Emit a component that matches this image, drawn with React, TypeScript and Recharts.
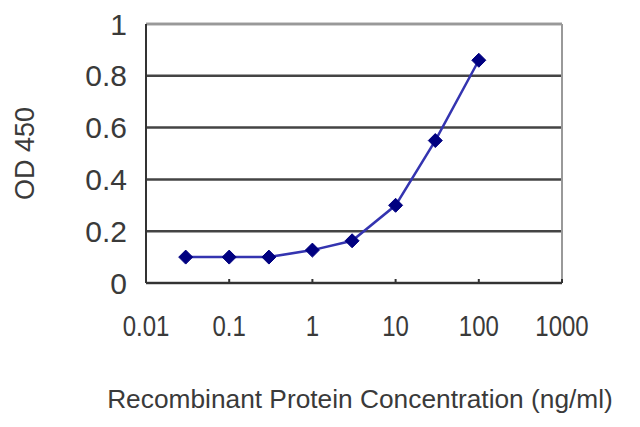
import React from 'react';
import { LineChart, Line, XAxis, YAxis, CartesianGrid, ReferenceLine } from 'recharts';

const concentrations = [0.03, 0.1, 0.3, 1, 3, 10, 30, 100];
const od450 = [0.1, 0.1, 0.1, 0.127, 0.163, 0.3, 0.55, 0.86];
const xTicks = [0.01, 0.1, 1, 10, 100, 1000];
const yTicks = [0, 0.2, 0.4, 0.6, 0.8, 1];
const xTickLabels = ['0.01', '0.1', '1', '10', '100', '1000'];
const yTickLabels = ['0', '0.2', '0.4', '0.6', '0.8', '1'];

const data = concentrations.map((c, i) => ({ x: c, y: od450[i] }));

const FONT = '"Liberation Sans", Arial, sans-serif';

const Diamond = (props: any) => {
  const { cx, cy } = props;
  if (cx == null || cy == null) return null;
  const r = 7;
  return (
    <polygon
      points={`${cx},${cy - r} ${cx + r},${cy} ${cx},${cy + r} ${cx - r},${cy}`}
      fill="#000080"
      stroke="#000080"
      strokeWidth={1}
    />
  );
};

const XTick = (props: any) => {
  const { x, y, payload } = props;
  const label = xTickLabels[xTicks.indexOf(payload.value)] ?? String(payload.value);
  return (
    <g transform={`translate(${x},${y})`}>
      <text
        x={0}
        y={0}
        dy="0.71em"
        textAnchor="middle"
        fontSize={30}
        fontFamily={FONT}
        fill="#3a3a3a"
        transform="scale(0.8,1)"
      >
        {label}
      </text>
    </g>
  );
};

export default function App() {
  return (
    <div style={{ position: 'absolute', left: 0, top: 0, width: 640, height: 427, background: '#fff' }}>
      <LineChart
        width={640}
        height={427}
        data={data}
        margin={{ top: 24, right: 78, bottom: 0, left: 0 }}
      >
        <CartesianGrid horizontal vertical={false} stroke="#444" strokeWidth={2.5} />
        <ReferenceLine y={1} stroke="#999" strokeWidth={2} />
        <ReferenceLine x={1000} stroke="#999" strokeWidth={2} />
        <XAxis
          dataKey="x"
          type="number"
          scale="log"
          domain={[0.01, 1000]}
          ticks={xTicks}
          allowDataOverflow
          height={144}
          stroke="#333"
          strokeWidth={2}
          tickSize={-4}
          tickMargin={36}
          tick={<XTick />}
          label={{
            content: (p: any) => {
              const vb = p.viewBox;
              return (
                <text
                  x={vb.x + vb.width / 2 + 6}
                  y={408}
                  textAnchor="middle"
                  fontSize={26.3}
                  fontFamily={FONT}
                  fill="#3a3a3a"
                >
                  Recombinant Protein Concentration (ng/ml)
                </text>
              );
            },
          }}
        />
        <YAxis
          type="number"
          domain={[0, 1]}
          ticks={yTicks}
          width={146}
          stroke="#333"
          strokeWidth={2}
          tickLine={false}
          tickSize={0}
          tickMargin={19}
          tickFormatter={(v: number) => yTickLabels[yTicks.indexOf(v)] ?? String(v)}
          tick={{ fontSize: 30, fontFamily: FONT, fill: '#3a3a3a' }}
          label={{
            content: (p: any) => {
              const vb = p.viewBox;
              const cx = vb.x + 25;
              const cy = vb.y + vb.height / 2;
              return (
                <text
                  x={cx}
                  y={cy}
                  dy="0.35em"
                  textAnchor="middle"
                  fontSize={27}
                  fontFamily={FONT}
                  fill="#3a3a3a"
                  transform={`rotate(-90,${cx},${cy})`}
                >
                  OD 450
                </text>
              );
            },
          }}
        />
        <Line
          type="linear"
          dataKey="y"
          stroke="#3434b0"
          strokeWidth={2.5}
          dot={<Diamond />}
          activeDot={false}
          isAnimationActive={false}
        />
      </LineChart>
    </div>
  );
}
